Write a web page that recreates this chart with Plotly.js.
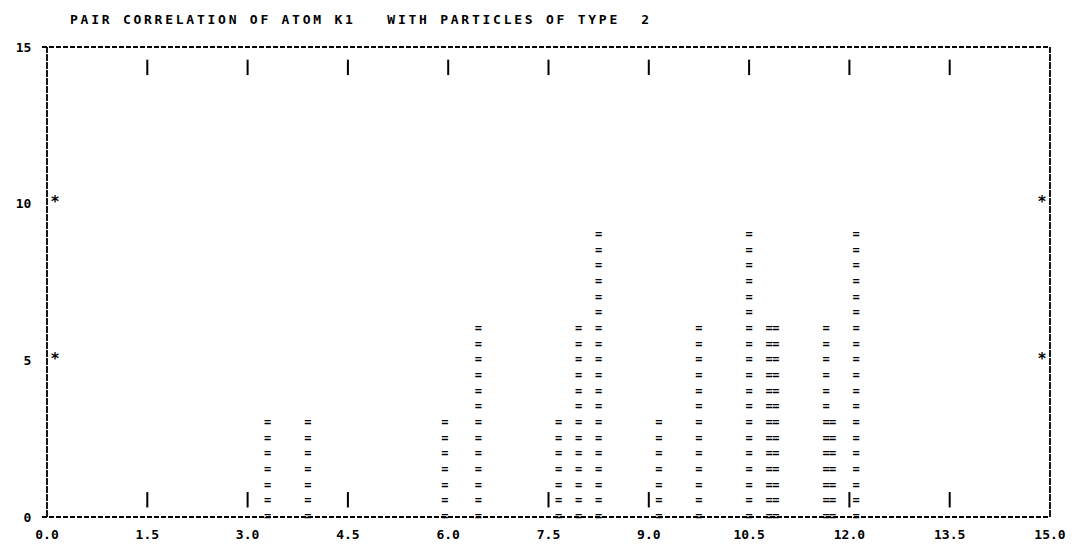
<!DOCTYPE html>
<html>
<head>
<meta charset="utf-8">
<script src="https://cdn.plot.ly/plotly-3.0.1.min.js"></script>
<style>
  html, body { margin: 0; padding: 0; background: #fff; }
  #chart { width: 1075px; height: 548px; }
  .gtitle { letter-spacing: 2.75px; }
</style>
</head>
<body>
<div id="chart"></div>
<script>
// ---- data ----
const binX     = [3.3, 3.9, 5.95, 6.45, 7.65, 7.95, 8.25, 9.15, 9.75, 10.5, 10.8, 10.9, 11.65, 11.75, 12.1];
const binCount = [3,   3,   3,    6,    3,    6,    9,    3,    6,    9,    6,    6,    6,     3,     9];
const rowStep  = 0.5;   // one printer line

const xTickVals = [0, 1.5, 3, 4.5, 6, 7.5, 9, 10.5, 12, 13.5, 15];
const xTickText = ['0.0', '1.5', '3.0', '4.5', '6.0', '7.5', '9.0', '10.5', '12.0', '13.5', '15.0'];
const yTickVals = [0, 5, 10, 15];
const yTickText = ['0', '5', '10', '15'];

const topMarkX    = [1.5, 3, 4.5, 6, 7.5, 9, 10.5, 12, 13.5];
const bottomMarkX = [1.5, 3, 4.5, 7.5, 9, 12, 13.5];
const starY       = [10, 5];
const starLeftX   = 0.12;
const starRightX  = 14.88;

const titleText = 'PAIR CORRELATION OF ATOM K1   WITH PARTICLES OF TYPE  2';

// ---- build glyph stacks ----
const eqX = [], eqY = [], eqT = [];
binX.forEach((x, i) => {
  for (let r = 0; r <= binCount[i] + 1e-9; r += rowStep) {
    eqX.push(x); eqY.push(r); eqT.push('=');
  }
});

const mono = 'DejaVu Sans Mono, Liberation Mono, monospace';
const ink = '#000';

const tickMarker = { symbol: 'line-ns', size: 11, color: ink, line: { color: ink, width: 2 } };

const traces = [
  {
    type: 'scatter', mode: 'text', x: eqX, y: eqY, text: eqT,
    textposition: 'middle center',
    textfont: { family: mono, size: 12, color: ink, weight: 'bold' },
    hoverinfo: 'skip', showlegend: false, cliponaxis: false
  },
  {
    type: 'scatter', mode: 'markers', x: topMarkX, y: topMarkX.map(() => 14.35),
    marker: tickMarker, hoverinfo: 'skip', showlegend: false, cliponaxis: false
  },
  {
    type: 'scatter', mode: 'markers', x: bottomMarkX, y: bottomMarkX.map(() => 0.55),
    marker: tickMarker, hoverinfo: 'skip', showlegend: false, cliponaxis: false
  },
  {
    type: 'scatter', mode: 'text',
    x: starY.map(() => starLeftX).concat(starY.map(() => starRightX)),
    y: starY.concat(starY),
    text: starY.concat(starY).map(() => '*'), textposition: 'middle center',
    textfont: { family: mono, size: 15, color: ink, weight: 'bold' },
    hoverinfo: 'skip', showlegend: false, cliponaxis: false
  }
];

const frameLine = { color: ink, width: 2, dash: '5px,2px' };
const sideLine  = { color: ink, width: 1.8, dash: '7px,1px' };

const layout = {
  width: 1075, height: 548,
  margin: { l: 47, r: 25, t: 47, b: 31 },
  paper_bgcolor: '#fff', plot_bgcolor: '#fff',
  title: {
    text: titleText,
    x: 70 / 1075, xref: 'container', xanchor: 'left',
    y: 1 - 19 / 548, yref: 'container', yanchor: 'middle',
    font: { family: mono, size: 13, color: ink, weight: 'bold' }
  },
  xaxis: {
    range: [0, 15], tickmode: 'array', tickvals: xTickVals, ticktext: xTickText,
    showgrid: false, zeroline: false, showline: false,
    ticks: 'outside', ticklen: 5, tickcolor: 'rgba(0,0,0,0)',
    tickfont: { family: mono, size: 13, color: ink, weight: 'bold' }
  },
  yaxis: {
    range: [0, 15], tickmode: 'array', tickvals: yTickVals, ticktext: yTickText,
    showgrid: false, zeroline: false, showline: false,
    ticks: 'outside', ticklen: 12, tickcolor: 'rgba(0,0,0,0)',
    tickfont: { family: mono, size: 13, color: ink, weight: 'bold' }
  },
  shapes: [
    { type: 'line', xref: 'paper', yref: 'paper', x0: -0.005, x1: 1.0, y0: 1, y1: 1, line: frameLine },
    { type: 'line', xref: 'paper', yref: 'paper', x0: -0.005, x1: 1.0, y0: 0, y1: 0, line: frameLine },
    { type: 'line', xref: 'paper', yref: 'paper', x0: 0, x1: 0, y0: 0, y1: 1, line: sideLine },
    { type: 'line', xref: 'paper', yref: 'paper', x0: 1, x1: 1, y0: 0, y1: 1, line: sideLine }
  ],
  showlegend: false
};

Plotly.newPlot('chart', traces, layout, { staticPlot: true, displayModeBar: false });
</script>
</body>
</html>
